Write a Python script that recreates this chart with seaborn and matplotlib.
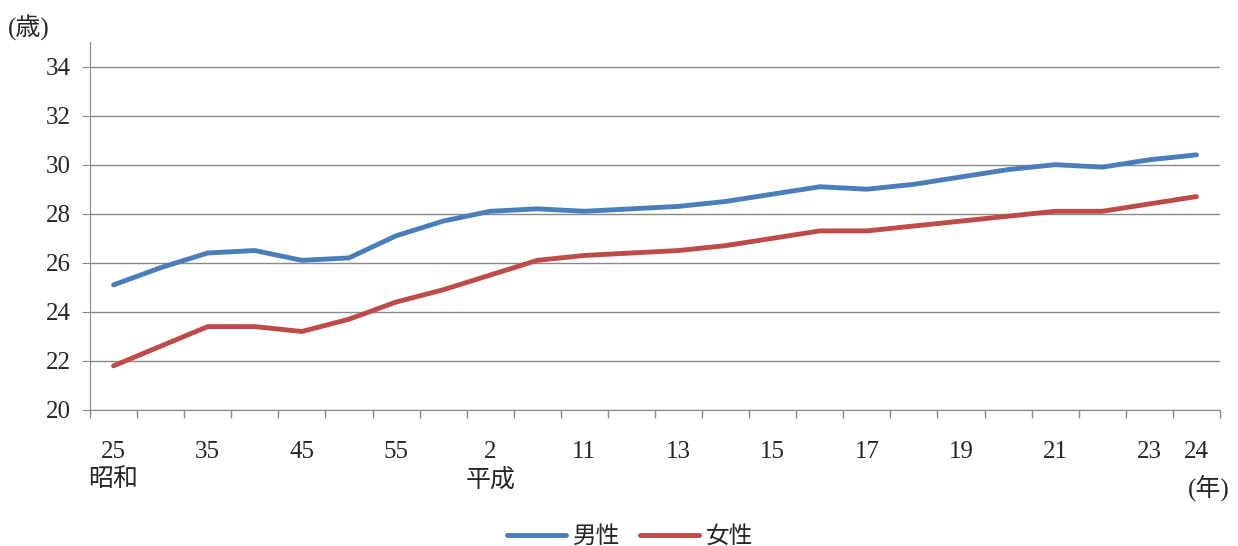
import numpy as np
import pandas as pd
import seaborn as sns
import matplotlib.pyplot as plt

years = ['昭和25', '30', '35', '40', '45', '50', '55', '60', '平成2', '7', '11', '12',
         '13', '14', '15', '16', '17', '18', '19', '20', '21', '22', '23', '24']
male = [25.1, 25.8, 26.4, 26.5, 26.1, 26.2, 27.1, 27.7, 28.1, 28.2, 28.1, 28.2,
        28.3, 28.5, 28.8, 29.1, 29.0, 29.2, 29.5, 29.8, 30.0, 29.9, 30.2, 30.4]
female = [21.8, 22.6, 23.4, 23.4, 23.2, 23.7, 24.4, 24.9, 25.5, 26.1, 26.3, 26.4,
          26.5, 26.7, 27.0, 27.3, 27.3, 27.5, 27.7, 27.9, 28.1, 28.1, 28.4, 28.7]
tick_idx = [0, 2, 4, 6, 8, 10, 12, 14, 16, 18, 20, 22, 23]
tick_labels = ['25\n昭和', '35', '45', '55', '2\n平成', '11', '13', '15', '17', '19', '21', '23', '24']

sns.set_style('white')
plt.rcParams['font.family'] = ['Liberation Serif', 'Noto Sans CJK JP']

df = pd.DataFrame({'x': list(range(len(years))) * 2,
                   'age': male + female,
                   'sex': ['男性'] * len(years) + ['女性'] * len(years)})

fig = plt.figure(figsize=(12.38, 5.46), dpi=100)
ax = fig.add_axes([90 / 1238, 1 - 410 / 546, 1130 / 1238, 368 / 546])
sns.lineplot(data=df, x='x', y='age', hue='sex', palette=['#4a7ebb', '#be4b48'],
             linewidth=3.5, ax=ax)

ax.set_xlim(-0.5, len(years) - 0.5)
ax.set_ylim(20, 35)
ax.set_yticks(range(20, 35, 2))
ax.yaxis.grid(True, color='#888888', linewidth=1)
ax.set_axisbelow(True)
ax.set_xticks(tick_idx)
ax.set_xticklabels(tick_labels, fontsize=18, ha='center', va='top', linespacing=1.3)
for lab in ax.get_xticklabels():
    lab.set_multialignment('center')
ax.set_xticks(np.arange(-0.5, len(years), 1), minor=True)
ax.tick_params(axis='x', which='major', length=0, pad=22)
ax.tick_params(axis='x', which='minor', bottom=True, length=6, width=1,
               direction='out', color='#888888')
ax.tick_params(axis='y', left=True, length=6, direction='out', color='#888888',
               labelsize=18, pad=8)
for s in ['top', 'right']:
    ax.spines[s].set_visible(False)
for s in ['left', 'bottom']:
    ax.spines[s].set_color('#888888')
ax.set_xlabel('')
ax.set_ylabel('')
fig.text(8 / 1238, 1 - 28 / 546, '(歳)', fontsize=18, va='center')
fig.text(1188 / 1238, 1 - 488 / 546, '(年)', fontsize=18, va='center')
ax.legend(loc='center', bbox_to_anchor=(0.478, -0.345), ncol=2, frameon=False,
          fontsize=17, handlelength=2.5, handletextpad=0.3, columnspacing=0.8)
fig.savefig('out.png', dpi=100)
